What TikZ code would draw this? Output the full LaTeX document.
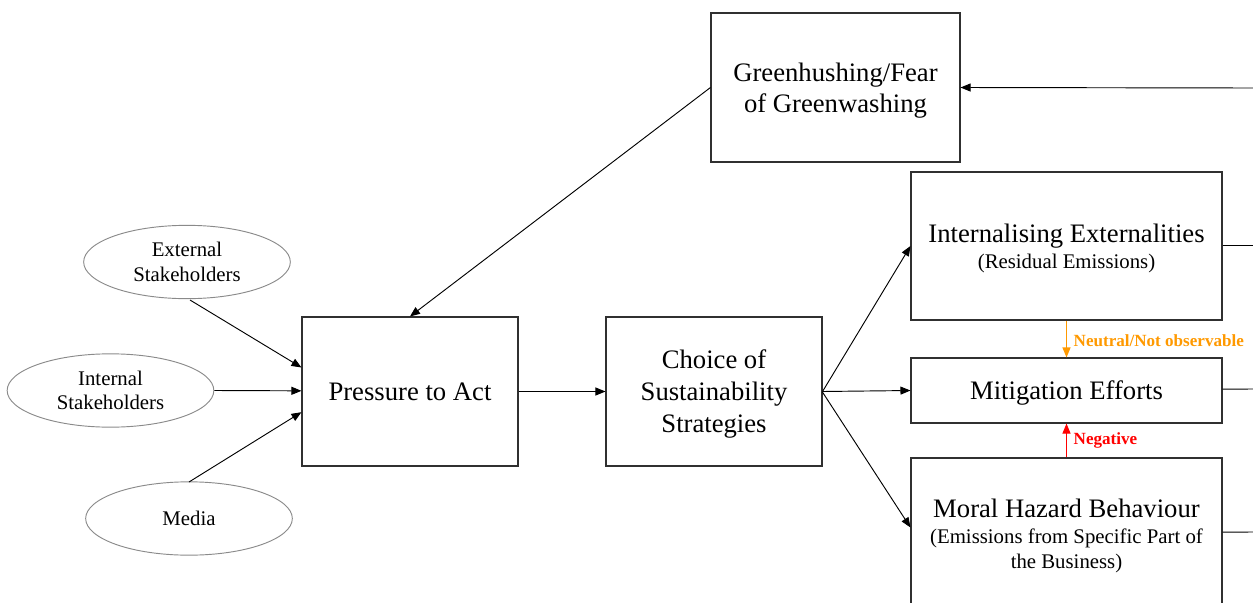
\documentclass[tikz,border=0pt]{standalone}
\usepackage{fontspec}
\setmainfont{Liberation Serif}
\usetikzlibrary{arrows.meta,shapes.geometric}
\definecolor{boxline}{HTML}{303030}
\definecolor{ellline}{HTML}{8A8A8A}
\definecolor{orangelab}{HTML}{FF9900}
\definecolor{redlab}{HTML}{FF0000}
\tikzset{
  box/.style={draw=boxline, line width=0.8pt, rectangle, inner sep=0pt, align=center,
    font=\fontsize{20pt}{23.25pt}\selectfont, text height=17.8pt, text depth=4.3pt},
  oval/.style={draw=ellline, line width=0.7pt, ellipse, inner sep=0pt,
    minimum width=155pt, minimum height=55pt, align=center,
    font=\fontsize{15.6pt}{18.5pt}\selectfont},
  arr/.style={draw=black, line width=0.7pt, -{Triangle[length=7.5pt,width=6pt]}},
  plain/.style={draw=black, line width=0.7pt},
  lab/.style={font=\fontsize{12.8pt}{15pt}\selectfont\bfseries, inner sep=0pt, anchor=west, xshift=5pt}
}
\begin{document}
\begin{tikzpicture}[x=0.75pt,y=-0.75pt]
\useasboundingbox (0,0) rectangle (1253,603);
% boxes
\node[box, minimum width=186.75pt, minimum height=111.75pt, text height=41.05pt] (green) at (835.5,87.5)
  {Greenhushing/Fear\\of Greenwashing};
\node[box, minimum width=162pt, minimum height=111.75pt] (press) at (410,391.5)
  {Pressure to Act};
\node[box, minimum width=162pt, minimum height=111.75pt, font=\fontsize{20pt}{24pt}\selectfont, text height=65.8pt] (choice) at (714,391.5)
  {Choice of\\Sustainability\\Strategies};
\node[box, minimum width=233.25pt, minimum height=111pt, font=\fontsize{15.6pt}{19.5pt}\selectfont, text height=37.3pt, text depth=3.4pt] (intern) at (1066.5,246)
  {{\fontsize{20pt}{19.5pt}\selectfont Internalising Externalities}\\(Residual Emissions)};
\node[box, minimum width=233.25pt, minimum height=48.75pt] (mitig) at (1066.5,390.5)
  {Mitigation Efforts};
\node[box, minimum width=233.25pt, minimum height=113.25pt, font=\fontsize{15.6pt}{19pt}\selectfont, text height=55.8pt, text depth=3.4pt] (moral) at (1066.5,533.5)
  {{\fontsize{20pt}{19.5pt}\selectfont Moral Hazard Behaviour}\\(Emissions from Specific Part of\\the Business)};
% ellipses
\node[oval] (ext) at (187,262) {External\\Stakeholders};
\node[oval] (int) at (110.5,390.5) {Internal\\Stakeholders};
\node[oval] (media) at (189,518.5) {Media};
% edge coordinates
\coordinate (fb) at (1253,88);
\coordinate (r1) at (1253,245);
\coordinate (r2) at (1253,389);
\coordinate (r3) at (1253,532);
\coordinate (extout) at (190,300);
\coordinate (mediaout) at (189,482);
% connectors
\draw[arr] (extout) -- ([yshift=18pt]press.west);
\draw[arr] (int.east) -- ([yshift=0.5pt]press.west);
\draw[arr] (mediaout) -- ([yshift=-15.5pt]press.west);
\draw[arr] (green.west) -- (press.north);
\draw[arr] (press.east) -- (choice.west);
\draw[arr] (choice.east) -- (intern.west);
\draw[arr] (choice.east) -- (mitig.west);
\draw[arr] ([yshift=-0.5pt]choice.east) -- ([yshift=4.5pt]moral.west);
\draw[arr] (fb) -- (green.east);
\draw[plain] ([yshift=0.75pt]intern.east) -- (r1);
\draw[plain] ([yshift=1pt]mitig.east) -- (r2);
\draw[plain] ([yshift=1pt]moral.east) -- (r3);
\draw[draw=orangelab, line width=0.8pt, -{Triangle[length=7.5pt,width=6pt]}] (intern.south) -- node[lab, text=orangelab, yshift=-1.5pt] {Neutral/Not observable} (mitig.north);
\draw[draw=redlab, line width=0.8pt, -{Triangle[length=7.5pt,width=6pt]}] (moral.north) -- node[lab, text=redlab] {Negative} (mitig.south);
\end{tikzpicture}
\end{document}
